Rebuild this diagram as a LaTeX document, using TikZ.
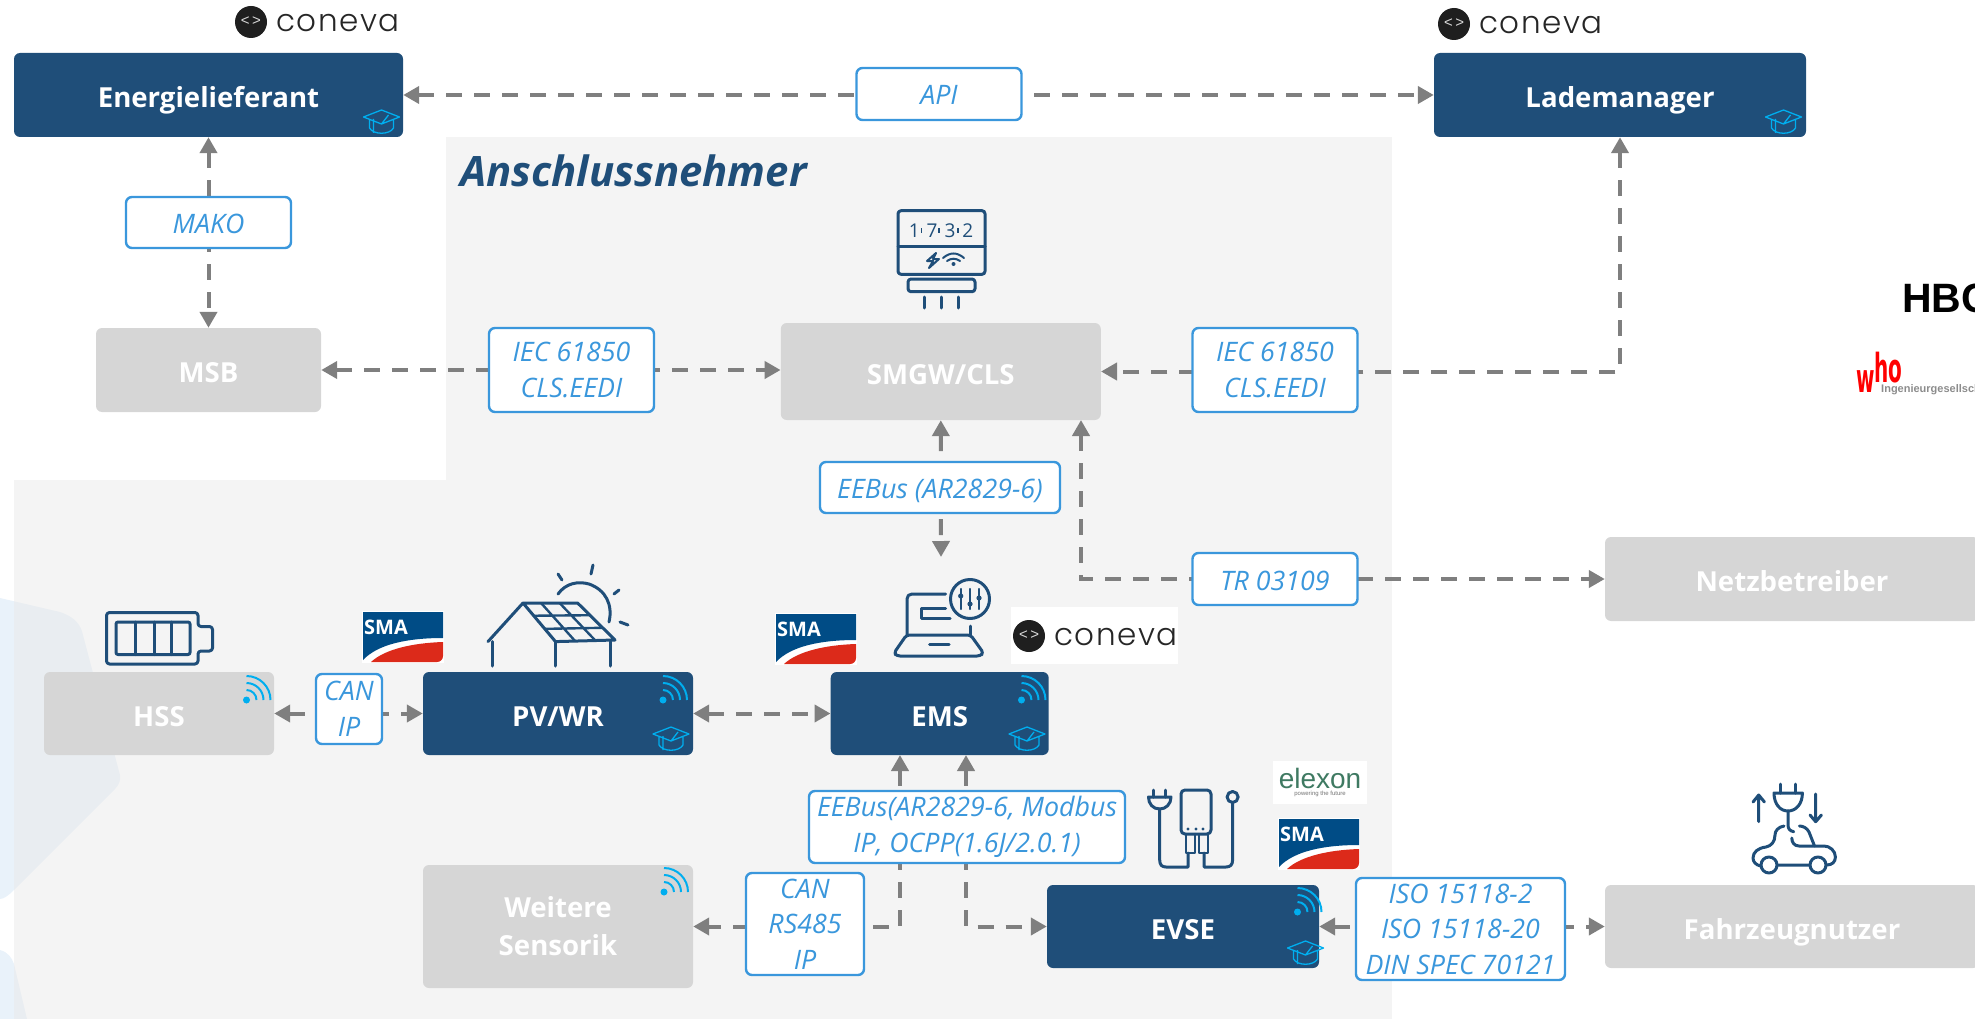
\documentclass[tikz,border=0pt]{standalone}
\usepackage{fontspec}
\usepackage{xcolor}
\usepackage{tikz}
\usetikzlibrary{arrows.meta,calc}
\setmainfont{Open Sans}
\newfontfamily\conevafont[LetterSpace=5]{Poppins Light}
\newfontfamily\logofont{Liberation Sans}
\newfontfamily\whofont{DejaVu Sans}

\definecolor{navy}{HTML}{1F4E79}
\definecolor{softgray}{HTML}{D6D6D6}
\definecolor{flowgray}{HTML}{7F7F7F}
\definecolor{labelblue}{HTML}{3A97DC}
\definecolor{signal}{HTML}{00AEEF}
\definecolor{hexblue}{HTML}{E9F2FA}
\definecolor{smablue}{HTML}{004C86}
\definecolor{smared}{HTML}{DC2A1A}
\definecolor{elexgreen}{HTML}{3F7A62}

\tikzset{
    darkbox/.style={fill=navy, text=white, rounded corners=6pt, inner sep=0pt, align=center,
        text height=30pt, text depth=5pt, font=\fontsize{27.6}{38}\selectfont\bfseries},
    graybox/.style={darkbox, fill=softgray},
    labelbox/.style={draw=labelblue, fill=white, text=labelblue, line width=2.4pt, rounded corners=6pt,
        inner sep=0pt, align=center, font=\fontsize{26.8}{35.5}\selectfont\itshape,
        execute at begin node={\rule{0pt}{26pt}}},
    oneline/.style={text height=27pt, text depth=5pt},
    flow/.style={draw=flowgray, line width=4pt, dash pattern=on 16pt off 12pt},
    icon/.style={draw=navy, line width=3pt, line cap=round, line join=round},
    wifi/.pic={
        \fill[signal] (0,0) circle (3.5);
        \foreach \r in {10,17,24}
            \draw[signal, line width=2pt] (0,-\r) arc[start angle=90, end angle=0, radius=\r pt];
    },
    gradcap/.pic={
        \draw[signal, line width=1.3pt, line join=round]
            (-18,-3) -- (0,-10) -- (18,-3) -- (0,4) -- cycle
            (-12,0) -- (-12,8) .. controls (-8,15) and (8,15) .. (12,8) -- (12,0)
            (-8,-1) -- (-8,13)
            (0,4) -- (7,-5);
    },
    smalogo/.pic={
        \fill[white] (-1,-1) rectangle (81,51);
        \fill[smablue] (0,0) -- (80,0) -- (80,26) .. controls (45,26) and (15,32) .. (0,48) -- cycle;
        \fill[smared] (8,50) .. controls (22,37) and (50,31) .. (80,30) -- (80,44)
            arc[start angle=0, end angle=-90, radius=6pt] -- cycle;
        \node[text=white, inner sep=0pt, font=\fontsize{20}{20}\selectfont\bfseries] at (23,15) {SMA};
    },
    conevalogo/.pic={
        \fill[black!88] (0,0) circle (16);
        \node[text=black!15, inner sep=0pt, font=\logofont\fontsize{15}{15}\selectfont] at (0,-1) {<\,>};
        \node[anchor=west, text=black!85, inner sep=0pt, font=\conevafont\fontsize{31}{31}\selectfont] at (25,1) {coneva};
    },
}

\begin{document}
\begin{tikzpicture}[x=1pt, y=-1pt, >={Triangle[length=16pt, width=17pt]}]
    \path[use as bounding box] (0,0) rectangle (1975,1019);

    % Backgrounds
    \fill[hexblue] (0,598) -- (60,612) .. controls (75,617) and (81,625) .. (83,635) -- (120,775)
        .. controls (121,780) and (119,785) .. (115,789) -- (14,890) .. controls (9,895) and (4,899) .. (0,899) -- cycle;
    \fill[hexblue] (0,950) .. controls (8,952) and (12,958) .. (14,964) -- (27,1019) -- (0,1019) -- cycle;
    \fill[black!8.6, fill opacity=0.5] (14,480) rectangle (446,1019);
    \fill[black!4.3] (446,137) rectangle (1392,1019);

    % Systems
    \node[darkbox, minimum width=389pt, minimum height=84pt] (energie) at (208.5,95) {Energielieferant};
    \node[darkbox, minimum width=372pt, minimum height=84pt] (lademanager) at (1620,95) {Lademanager};
    \node[graybox, minimum width=225pt, minimum height=84pt] (msb) at (208.5,370) {MSB};
    \node[graybox, minimum width=320pt, minimum height=97pt] (smgw) at (940.8,371.5) {SMGW/CLS};
    \node[graybox, minimum width=230pt, minimum height=83pt] (hss) at (159,713.5) {HSS};
    \node[darkbox, minimum width=270pt, minimum height=83pt] (pvwr) at (558,713.5) {PV/WR};
    \node[darkbox, minimum width=218pt, minimum height=83pt] (ems) at (939.7,713.5) {EMS};
    \node[graybox, minimum width=270pt, minimum height=123pt, text height=, text depth=] (sensorik) at (558,926.5) {Weitere\\Sensorik};
    \node[darkbox, minimum width=272pt, minimum height=83pt] (evse) at (1183,926.5) {EVSE};
    \node[graybox, minimum width=374pt, minimum height=84pt] (netz) at (1792,579) {Netzbetreiber};
    \node[graybox, minimum width=374pt, minimum height=83pt] (fahrzeug) at (1792,926.5) {Fahrzeugnutzer};

    % Free ends of connectors
    \coordinate (smgwfoot) at (1081,420);
    \coordinate (emsfree) at (941,557);
    \coordinate (emsleft) at (900,755);
    \coordinate (emsright) at (966,755);

    % Connectors
    \draw[flow, <->] (energie) -- (lademanager);
    \draw[flow, <->] (energie.south) -- (msb.north);
    \draw[flow, <->] (msb.east) -- (msb.east -| smgw.west);
    \draw[flow, <->] (lademanager.south) |- (smgw.east);
    \draw[flow, <->] (smgw.south) -- (emsfree);
    \draw[flow, <->] (smgwfoot) |- (netz.west);
    \draw[flow, <->] (hss) -- (pvwr);
    \draw[flow, <->] (pvwr) -- (ems);
    \draw[flow, <->] (emsleft) |- (sensorik.east);
    \draw[flow, <->] (emsright) |- (evse.west);
    \draw[flow, <->] (evse) -- (fahrzeug);

    % Protocol labels
    \node[labelbox, oneline, minimum width=165pt, minimum height=52pt] (api) at (939,94) {API};
    \node[labelbox, oneline, minimum width=165pt, minimum height=51pt] (mako) at (208.5,222.5) {MAKO};
    \node[labelbox, minimum width=165pt, minimum height=84pt] (iecleft) at (571.5,370) {IEC 61850\\CLS.EEDI};
    \node[labelbox, minimum width=165pt, minimum height=84pt] (iecright) at (1275,370) {IEC 61850\\CLS.EEDI};
    \node[labelbox, oneline, minimum width=240pt, minimum height=51pt] (eebus) at (940,487.5) {EEBus (AR2829-6)};
    \node[labelbox, oneline, minimum width=165pt, minimum height=52pt] (tr) at (1275,579) {TR 03109};
    \node[labelbox, minimum width=66pt, minimum height=70pt] (canip) at (349,709) {CAN\\IP};
    \node[labelbox, minimum width=316pt, minimum height=72pt] (eebusems) at (967,827) {EEBus(AR2829-6, Modbus\\IP, OCPP(1.6J/2.0.1)};
    \node[labelbox, minimum width=118pt, minimum height=102pt] (canrs) at (805,924) {CAN\\RS485\\IP};
    \node[labelbox, minimum width=209pt, minimum height=102pt] (iso) at (1460.5,929) {ISO 15118-2\\ISO 15118-20\\DIN SPEC 70121};

    % Title
    \node[anchor=base west, inner sep=0pt, text=navy, font=\fontsize{41.8}{42}\selectfont\bfseries\itshape] (title) at (460,186) {Anschlussnehmer};

    % Small marks in the boxes
    \pic at (246.5,700) {wifi};
    \pic at (663,700) {wifi};
    \pic at (664,892) {wifi};
    \pic at (1021.5,700) {wifi};
    \pic at (1297.5,912) {wifi};
    \pic at (381.5,120) {gradcap};
    \pic at (671,737) {gradcap};
    \pic at (1783.5,120) {gradcap};
    \pic at (1027,737) {gradcap};
    \pic at (1305.5,951) {gradcap};

    % Logos
    \pic at (251,22) {conevalogo};
    \pic at (1454,24) {conevalogo};
    \fill[white] (1010.5,607) rectangle (1178,664);
    \pic at (1029,636) {conevalogo};
    \pic at (363,612) {smalogo};
    \pic at (776,614) {smalogo};
    \pic at (1279,819) {smalogo};
    \fill[white] (1273,761) rectangle (1367,804);
    \node[text=elexgreen, inner sep=0pt, font=\logofont\fontsize{28}{28}\selectfont] (elexon) at (1320,778) {elexon};
    \node[text=black!55, inner sep=0pt, font=\logofont\fontsize{6}{6}\selectfont] (future) at (1320,794) {powering the future};
    \node[anchor=base west, inner sep=0pt, font=\logofont\fontsize{41}{41}\selectfont\bfseries] (hbc) at (1902,312) {HBC};
    \node[anchor=base west, inner sep=0pt, text=red, font=\whofont\fontsize{20}{20}\selectfont\bfseries] (who) at (1856,392) {\scalebox{1}[2]{w\raisebox{5pt}{ho}}};
    \node[anchor=base west, inner sep=0pt, text=black!45, font=\logofont\fontsize{11}{11}\selectfont\bfseries] (ingenieur) at (1881,392) {Ingenieurgesellschaft};

    % Battery
    \draw[icon, rounded corners=3pt] (198,612.5) -- (106.5,612.5) -- (106.5,664) -- (198,664) -- (198,651) -- (212.5,651) -- (212.5,626.5) -- (198,626.5) -- cycle;
    \draw[icon, rounded corners=2pt] (116,622) rectangle (190,654.5);
    \draw[icon] (135,622) -- (135,654.5) (154,622) -- (154,654.5) (171,622) -- (171,654.5);

    % Roof with solar modules
    \coordinate (p0) at (523,603);
    \coordinate (p1) at (577.6,603);
    \coordinate (p2) at (615,640);
    \coordinate (p3) at (555.5,641.6);
    \draw[icon] (p3) -- (p0) -- (p1) -- (p2) -- cycle (p0) -- (488,641.6);
    \draw[icon, line width=2.4pt] foreach \t in {0.33,0.67} {
        ($(p0)!\t!(p1)$) -- ($(p3)!\t!(p2)$)
        ($(p0)!\t!(p3)$) -- ($(p1)!\t!(p2)$)};
    \draw[icon] (492.6,641.6) -- (492.6,666) (555.5,641.6) -- (555.5,666) (610.6,641.6) -- (610.6,666);
    \draw[icon] (558,594) .. controls (566,583) and (578,581) .. (589,584) .. controls (606,590) and (613,605) .. (609,622);
    \draw[icon] (558,574) -- (562,580) (593,565) -- (591,574) (619,590) -- (614,594) (620,622) -- (628,625);

    % Meter
    \draw[icon, rounded corners=3pt] (898,210.7) rectangle (985,274.3);
    \draw[icon] (898,246.7) -- (985,246.7);
    \draw[icon, rounded corners=3pt] (908,279) -- (908,291.7) -- (975,291.7) -- (975,279) -- cycle;
    \draw[icon] (924.6,297) -- (924.6,308) (941,297) -- (941,308) (958,297) -- (958,308);
    \node[text=navy, inner sep=0pt, font=\fontsize{19}{19}\selectfont] (digits) at (941,231) {1\hspace{7pt}7\hspace{7pt}3\hspace{7pt}2};
    \draw[navy, line width=1.6pt] (921.5,228) -- (921.5,233) (939,228) -- (939,233) (958,228) -- (958,233);
    \draw[navy, line width=2pt, line join=round] (936,253) -- (927,261) -- (933,261) -- (929,268) -- (939,259) -- (933,259) -- cycle;
    \draw[navy, line width=2pt, line cap=round] (943,258) .. controls (950,252) and (957,252) .. (964,258)
        (947,261) .. controls (951,258) and (956,258) .. (960,261);
    \fill[navy] (953.5,264) circle (2);

    % Laptop with sliders
    \draw[icon] (945.5,594) -- (912,594) .. controls (909,594) and (907,596) .. (907,599) -- (907,635);
    \draw[icon] (970.6,626) -- (970.6,635);
    \draw[icon, rounded corners=3pt] (906.5,635) -- (970.6,635) -- (983.5,653) -- (980,656) -- (897,656) -- (894,653) -- cycle;
    \draw[icon] (945.5,608) -- (921,608) -- (921,618) -- (950,618);
    \draw[icon] (929.5,644.7) -- (949,644.7);
    \draw[icon] (970,599) circle (19.5);
    \draw[icon, line width=2.2pt] (960.7,589) -- (960.7,609) (970,589) -- (970,609) (979,589) -- (979,609);
    \fill[navy] (960.7,596) circle (2.6) (970,604) circle (2.6) (979,598) circle (2.6);

    % Charging station
    \draw[icon] (1153.6,790) -- (1153.6,797) (1165,790) -- (1165,797);
    \draw[icon] (1148.5,797) -- (1171,797) .. controls (1171,804) and (1166,809) .. (1159.7,809) .. controls (1153,809) and (1148.5,804) .. (1148.5,797) -- cycle;
    \draw[icon] (1159.7,809) -- (1159.7,860) .. controls (1159.7,865) and (1162,867) .. (1166,867) -- (1188,867) -- (1188,853);
    \draw[icon, rounded corners=4pt] (1181,790) rectangle (1211,834);
    \fill[navy] (1188,829) circle (1.7) (1196,829) circle (1.7) (1203,829) circle (1.7);
    \draw[icon, line width=2.4pt] (1186,834) -- (1186,853) -- (1195,853) -- (1195,834) (1199,834) -- (1199,853) -- (1208,853) -- (1208,834);
    \draw[icon] (1204,853) -- (1204,867) -- (1226,867) .. controls (1230,867) and (1232.6,865) .. (1232.6,860) -- (1232.6,803);
    \draw[icon] (1232.6,797) circle (5.5);

    % Car with plug
    \draw[icon] (1758.7,821.7) -- (1758.7,795) (1753,802) -- (1758.7,795) -- (1764.4,802);
    \draw[icon] (1815.7,794) -- (1815.7,821.7) (1810,815) -- (1815.7,821.7) -- (1821.4,815);
    \draw[icon] (1780,784) -- (1780,793) (1795.5,784) -- (1795.5,793);
    \draw[icon] (1774,793) -- (1802.4,793) .. controls (1802.4,804) and (1796,811) .. (1788,811) .. controls (1780,811) and (1774,804) .. (1774,793) -- cycle;
    \draw[icon] (1788,811) -- (1788,825) .. controls (1788,829) and (1790,831) .. (1793.7,831.7);
    \draw[icon] (1784,826) .. controls (1778,827) and (1775,831) .. (1775,835) .. controls (1775,842) and (1771,846) .. (1766,847)
        .. controls (1758,848) and (1753,852) .. (1753,858) .. controls (1753,862) and (1756,865) .. (1760.6,866);
    \draw[icon] (1769,865) circle (8) (1818,865) circle (8) (1777,865) -- (1810,865);
    \draw[icon] (1826.7,865) .. controls (1832,865) and (1835.4,862) .. (1835.4,857) .. controls (1835.4,851) and (1830,846) .. (1824,846)
        -- (1799,846) .. controls (1794,846) and (1791.8,842) .. (1791.8,838);
    \draw[icon] (1814.5,846) -- (1809,832) .. controls (1807,828) and (1803,826) .. (1799.4,826);
\end{tikzpicture}
\end{document}
